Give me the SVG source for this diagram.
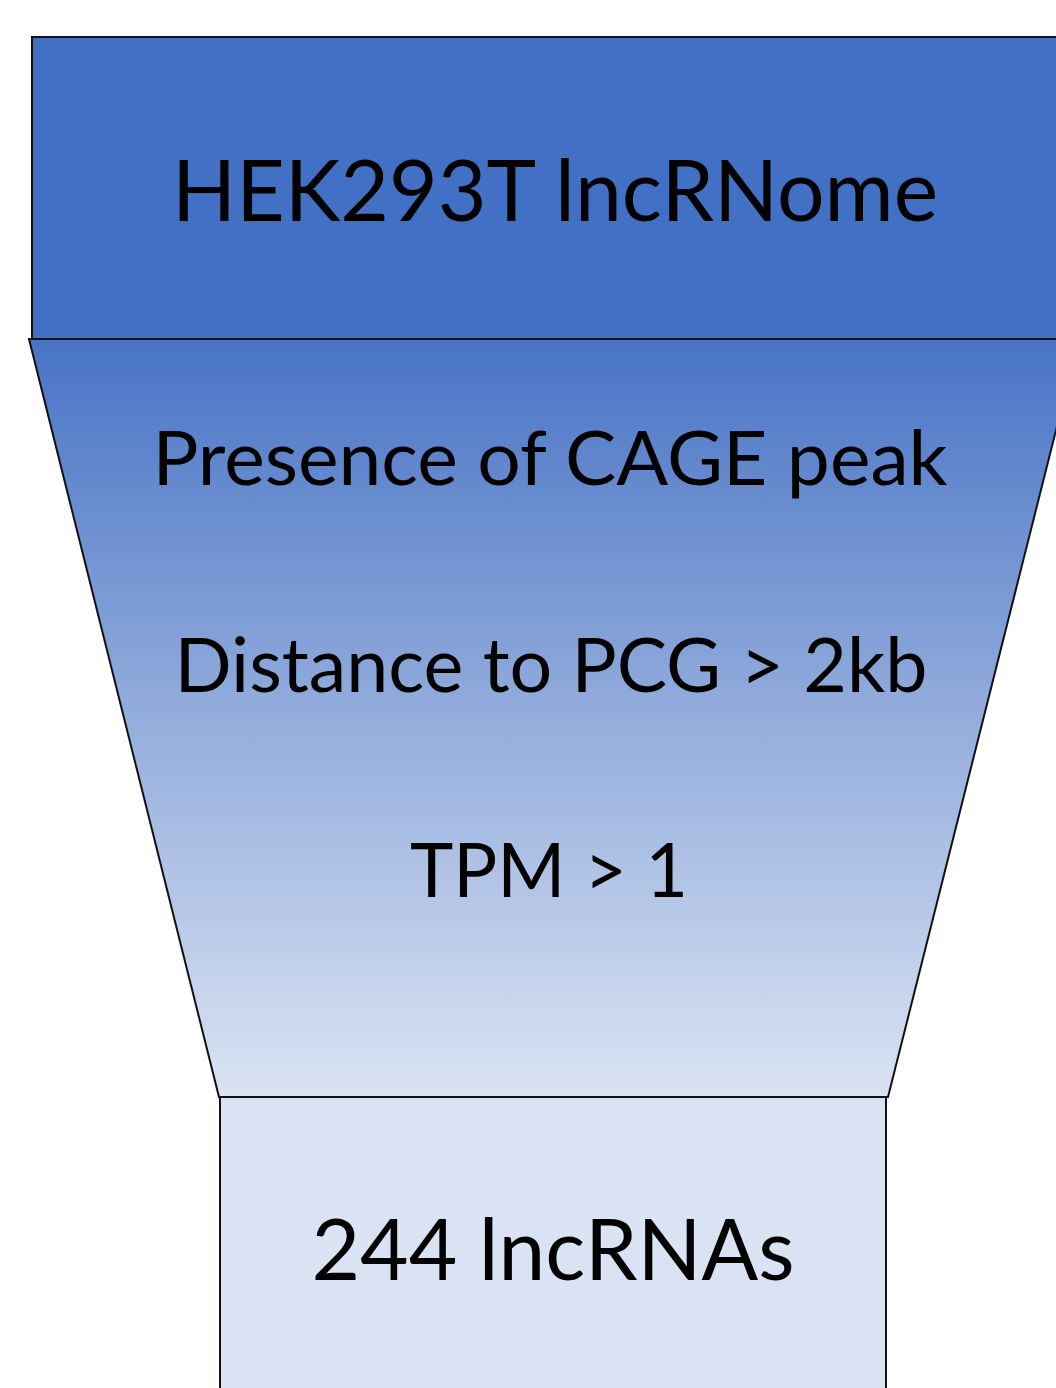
<svg xmlns="http://www.w3.org/2000/svg" width="1056" height="1388" viewBox="0 0 1056 1388">
<style>
.shape{stroke:#111;stroke-width:2;stroke-linejoin:miter}
.t{font-family:Lato,"Open Sans","Liberation Sans",sans-serif;fill:#000;text-anchor:middle}
.big{font-size:85px}
.mid{font-size:75px}
</style>
<defs>
<linearGradient id="fg" x1="0" y1="339" x2="0" y2="1097" gradientUnits="userSpaceOnUse">
<stop offset="0" stop-color="#4873C5"/>
<stop offset="0.5" stop-color="#93ADDC"/>
<stop offset="1" stop-color="#DAE3F3"/>
</linearGradient>
</defs>
<rect width="1056" height="1388" fill="#fff"/>
<g id="top">
<rect class="shape" x="32" y="37" width="1060" height="302" fill="#4170C4"/>
<text class="t big" x="555" y="221" textLength="766" lengthAdjust="spacingAndGlyphs">HEK293T lncRNome</text>
</g>
<g id="funnel">
<polygon class="shape" points="29,339 1079,339 888,1097 219,1097" fill="url(#fg)"/>
<text class="t mid" x="550" y="485" textLength="795" lengthAdjust="spacingAndGlyphs">Presence of CAGE peak</text>
<text class="t mid" x="551" y="692" textLength="753" lengthAdjust="spacingAndGlyphs">Distance to PCG &gt; 2kb</text>
<text class="t mid" x="549" y="897" textLength="278" lengthAdjust="spacingAndGlyphs">TPM &gt; 1</text>
</g>
<g id="bottom">
<rect class="shape" x="220" y="1097" width="666" height="320" fill="#DAE3F3"/>
<text class="t big" x="553" y="1280" textLength="483" lengthAdjust="spacingAndGlyphs">244 lncRNAs</text>
</g>
<g id="connectors"></g>
</svg>
